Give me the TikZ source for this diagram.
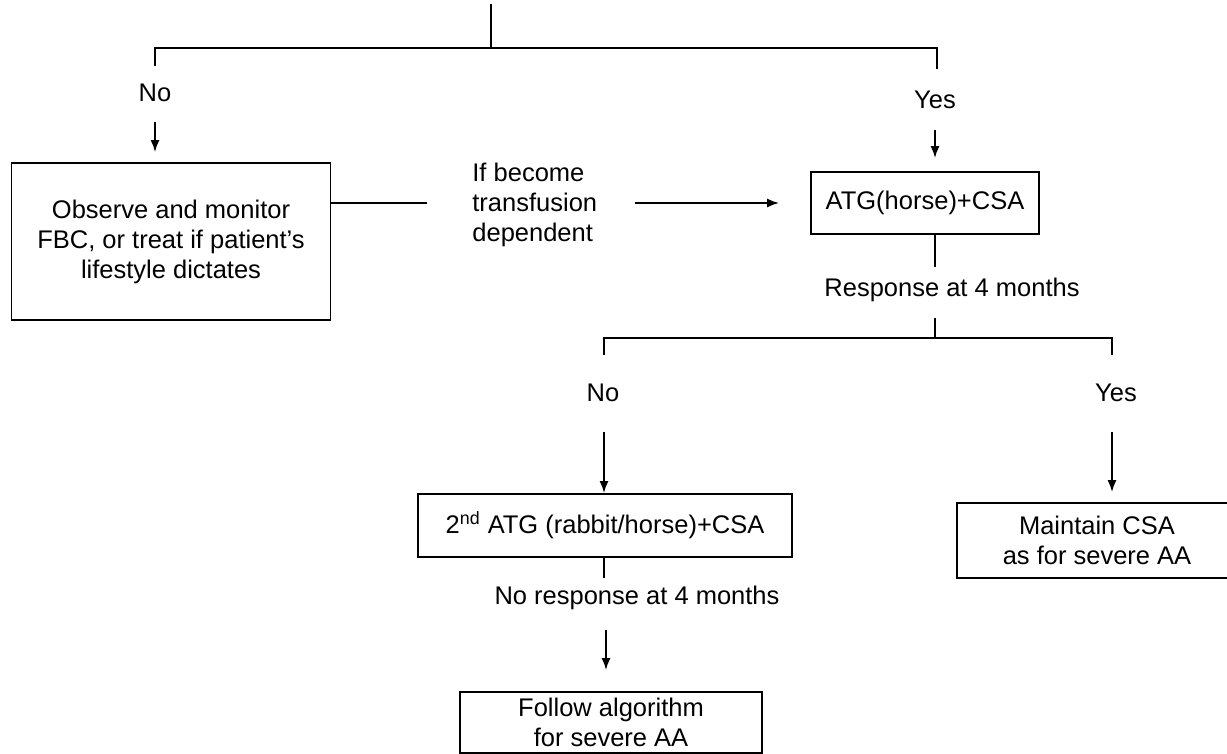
\documentclass[tikz,border=0pt]{standalone}
\usepackage{fontspec}
\setmainfont{Liberation Sans}
\usetikzlibrary{arrows.meta}
\begin{document}
\begin{tikzpicture}[x=0.5pt,y=-0.5pt,
  every node/.style={font=\fontsize{12.75}{15}\selectfont, inner sep=0pt},
  box/.style={draw, line width=0.9pt, align=center},
  ln/.style={line width=0.9pt},
  arr/.style={line width=0.9pt, -{Latex[length=6pt,width=4.5pt]}}]
\useasboundingbox (0,0) rectangle (1227,754);
% boxes
\node[box, minimum width=159.5pt, minimum height=78.5pt] (obs) at (171,241.5) {Observe and monitor\\FBC, or treat if patient’s\\lifestyle dictates};
\node[box, minimum width=114pt, minimum height=31pt] (atg) at (925,203) {ATG(horse)+CSA};
\node[box, minimum width=187pt, minimum height=31.5pt] (box2) at (605,525.5) {2\textsuperscript{nd} ATG (rabbit/horse)+CSA};
\node[box, minimum width=140pt, minimum height=37.5pt] (maint) at (1097,540.5) {Maintain CSA\\as for severe AA};
\node[box, minimum width=151pt, minimum height=30.5pt] (fol) at (611,722.5) {Follow algorithm\\for severe AA};
% labels
\node (no1) at (155,93) {No};
\node (yes1) at (935,100) {Yes};
\node[anchor=west, align=left] (tx) at (472,205) {If become\\transfusion\\dependent};
\node (resp) at (952,290) {Response at 4 months};
\node (no2) at (603,393) {No};
\node (yes2) at (1116,393) {Yes};
\node (nr) at (637,598) {No response at 4 months};
% top split
\coordinate (top) at (491,4);
\coordinate (j0) at (491,48);
\coordinate (jl) at (155,48);
\coordinate (jr) at (937,48);
\coordinate (sl) at (155,66);
\coordinate (sr) at (937,69);
\draw[ln] (top) -- (j0);
\draw[ln] (sl) -- (jl) -- (jr) -- (sr);
\coordinate (a1) at (155,122);
\draw[arr, shorten >=5pt] (a1) -- (a1 |- obs.north);
\coordinate (a2) at (935,130);
\draw[arr, shorten >=6.5pt] (a2) -- (a2 |- atg.north);
% transfusion link
\coordinate (t1) at (427,203);
\draw[ln] (obs.east |- t1) -- (t1);
\coordinate (t2) at (635,203);
\draw[arr, shorten >=15.5pt] (t2) -- (atg.west);
% response split
\coordinate (b1) at (935,267);
\draw[ln] (atg.south -| b1) -- (b1);
\coordinate (b2) at (935,318);
\coordinate (j1) at (935,338);
\draw[ln] (b2) -- (j1);
\coordinate (jl2) at (604,338);
\coordinate (jr2) at (1112,338);
\coordinate (sl2) at (604,355);
\coordinate (sr2) at (1112,355);
\draw[ln] (sl2) -- (jl2) -- (jr2) -- (sr2);
\coordinate (a3) at (604,432);
\draw[arr] (a3) -- (a3 |- box2.north);
\coordinate (a4) at (1112,432);
\draw[arr, shorten >=5pt] (a4) -- (a4 |- maint.north);
% second response
\coordinate (b3) at (604,578);
\draw[ln] (box2.south -| b3) -- (b3);
\coordinate (a5) at (606,630);
\draw[arr, shorten >=10.5pt] (a5) -- (a5 |- fol.north);
\end{tikzpicture}
\end{document}
